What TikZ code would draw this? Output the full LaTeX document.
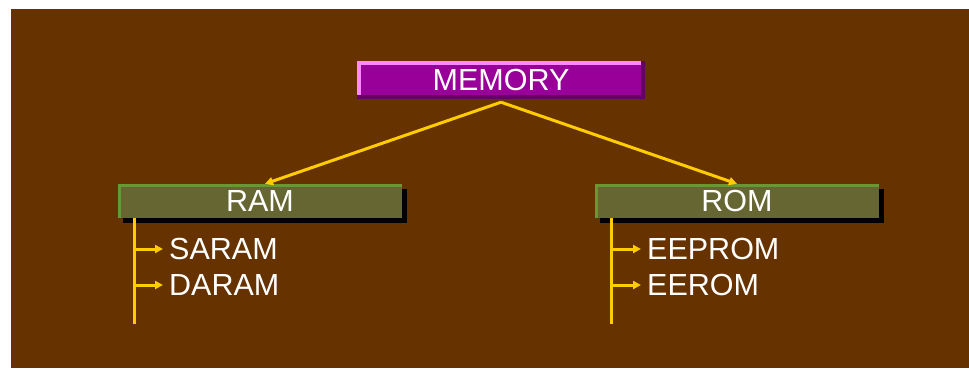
\documentclass[tikz,border=0pt]{standalone}
\usepackage{fontspec}
\setmainfont{Liberation Sans}
\usetikzlibrary{arrows.meta}

\definecolor{bgbrown}{HTML}{663300}
\definecolor{mempurple}{HTML}{990099}
\definecolor{mempink}{HTML}{FF88FF}
\definecolor{memdark}{HTML}{660066}
\definecolor{boxolive}{HTML}{666633}
\definecolor{boxgreen}{HTML}{669933}
\definecolor{linkyellow}{HTML}{FFCC00}

\tikzset{
	membox/.style={fill=mempurple, text=white, font=\fontsize{30.5}{32}\selectfont,
		minimum width=288pt, minimum height=38pt, inner sep=0pt},
	subbox/.style={fill=boxolive, text=white, font=\fontsize{30.5}{32}\selectfont,
		minimum width=284pt, minimum height=34pt, inner sep=0pt},
	item/.style={text=white, font=\fontsize{30.5}{32}\selectfont, anchor=west,
		inner xsep=6pt, inner ysep=0pt},
	link/.style={draw=linkyellow, line width=3pt},
	tip/.style={-{Triangle[length=8pt,width=8pt]}}
}

\begin{document}
\begin{tikzpicture}[x=1pt, y=-1pt]
	\useasboundingbox (0,0) rectangle (969,368);
	\fill[bgbrown] (11,9) rectangle (969,368);
	
	% top box
	\node[membox] (mem) at (501,80) {MEMORY};
	\draw[mempink, line width=4pt] ([xshift=2pt]mem.south west) -- ([shift={(2pt,-2pt)}]mem.north west) -- ([yshift=-2pt]mem.north east);
	\draw[memdark, line width=4pt] ([yshift=2pt]mem.south west) -- ([shift={(-2pt,2pt)}]mem.south east) -- ([xshift=-2pt]mem.north east);
	
	% shadows of the two boxes
	\fill[black] (123,189) rectangle (407,223);
	\fill[black] (600,189) rectangle (884,223);
	
	\node[subbox] (ram) at (260,201) {RAM};
	\node[subbox] (rom) at (737,201) {ROM};
	\draw[boxgreen, line width=3pt] ([xshift=1.5pt]ram.south west) -- ([shift={(1.5pt,-1.5pt)}]ram.north west) -- ([yshift=-1.5pt]ram.north east);
	\draw[boxgreen, line width=3pt] ([xshift=1.5pt]rom.south west) -- ([shift={(1.5pt,-1.5pt)}]rom.north west) -- ([yshift=-1.5pt]rom.north east);
	
	\draw[link, tip] ([yshift=-3pt]mem.south) -- ([xshift=5pt]ram.north);
	\draw[link, tip] ([yshift=-3pt]mem.south) -- (rom.north);
	
	% ram list
	\coordinate (ramtop) at (134,218);
	\coordinate (ramend) at (134,324);
	\node[item] (saram) at (163,249) {SARAM};
	\node[item] (daram) at (163,285) {DARAM};
	\draw[link] (ramtop) -- (ramend);
	\draw[link, tip] (ramtop |- saram) -- (saram.west);
	\draw[link, tip] (ramtop |- daram) -- (daram.west);
	
	% rom list
	\coordinate (romtop) at (611,218);
	\coordinate (romend) at (611,324);
	\node[item] (eeprom) at (641,249) {EEPROM};
	\node[item] (eerom) at (641,285) {EEROM};
	\draw[link] (romtop) -- (romend);
	\draw[link, tip] (romtop |- eeprom) -- (eeprom.west);
	\draw[link, tip] (romtop |- eerom) -- (eerom.west);
\end{tikzpicture}
\end{document}
